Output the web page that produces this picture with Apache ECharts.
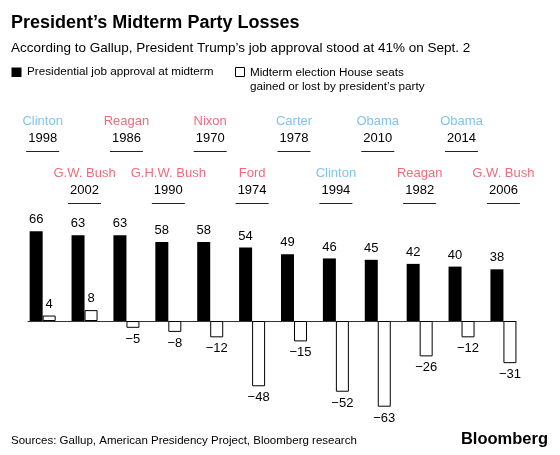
<!DOCTYPE html>
<html>
<head>
<meta charset="utf-8">
<script src="https://cdn.jsdelivr.net/npm/echarts@6/dist/echarts.min.js"></script>
<style>
html,body{margin:0;padding:0;background:#fff;}
#chart{width:560px;height:455px;}
</style>
</head>
<body>
<div id="chart"></div>
<script>
var presidents = ['Clinton','G.W. Bush','Reagan','G.H.W. Bush','Nixon','Ford','Carter','Clinton','Obama','Reagan','Obama','G.W. Bush'];
var years = ['1998','2002','1986','1990','1970','1974','1978','1994','2010','1982','2014','2006'];
var parties = ['D','R','R','R','R','R','D','D','D','R','D','R'];
var approval = [66,63,63,58,58,54,49,46,45,42,40,38];
var seats = [4,8,-5,-8,-12,-48,-15,-52,-63,-26,-12,-31];

var FONT = '"Liberation Sans", Arial, Helvetica, sans-serif';
var partyColor = {D:'#7cc6ec', R:'#ee6c7c'};
function fmt(v){ return v < 0 ? '\u2212' + Math.abs(v) : String(v); }

var chart = echarts.init(document.getElementById('chart'), null, {renderer:'canvas'});

var approvalData = approval.map(function(v,i){ return [i, v]; });
var seatsData = seats.map(function(v,i){
  return {value:[i, v], label:{position: v < 0 ? 'bottom' : 'top'}};
});
var labelData = presidents.map(function(p,i){ return [i, 0]; });

chart.setOption({
  animation:false,
  textStyle:{fontFamily:FONT},
  grid:{left:28, right:44, top:225.8, height:190.4, containLabel:false},
  xAxis:{type:'value', min:-0.35, max:11.3, 
    axisLine:{show:true, onZero:true, lineStyle:{color:'#333', width:1}},
    axisTick:{show:false}, axisLabel:{show:false}, splitLine:{show:false}},
  yAxis:{type:'value', min:-70, max:70, show:false, splitLine:{show:false}},
  graphic:[
    {type:'text', left:11, top:14, style:{text:'President\u2019s Midterm Party Losses', font:'bold 18px '+FONT, fill:'#000'}},
    {type:'text', left:11, top:41.5, style:{text:'According to Gallup, President Trump\u2019s job approval stood at 41% on Sept. 2', font:'13.5px '+FONT, fill:'#000'}},
    {type:'rect', shape:{x:11.5, y:67.5, width:10, height:9.5}, style:{fill:'#000'}},
    {type:'text', left:27, top:66, style:{text:'Presidential job approval at midterm', font:'11.7px '+FONT, fill:'#000'}},
    {type:'rect', shape:{x:235.5, y:67.5, width:9, height:9}, style:{fill:'#fff', stroke:'#000', lineWidth:1}},
    {type:'text', left:250, top:66, style:{text:'Midterm election House seats\ngained or lost by president\u2019s party', font:'11.7px '+FONT, lineHeight:14, fill:'#000'}},
    {type:'text', left:11, top:434.5, style:{text:'Sources: Gallup, American Presidency Project, Bloomberg research', font:'11.5px '+FONT, fill:'#000'}},
    {type:'text', right:12, top:431, style:{text:'Bloomberg', font:'bold 16.5px '+FONT, fill:'#000'}}
  ],
  series:[
    {name:'Presidential job approval at midterm', type:'bar', data:approvalData, barWidth:13, barGap:'0%',
      itemStyle:{color:'#000'},
      label:{show:true, position:'top', distance:5, color:'#000', fontSize:13, fontFamily:FONT, formatter:function(p){return fmt(p.value[1]);}}},
    {name:'Midterm election House seats gained or lost by president\u2019s party', type:'bar', data:seatsData, barWidth:13, barGap:'0%',
      itemStyle:{color:'#fff', borderColor:'#000', borderWidth:1},
      label:{show:true, distance:5, color:'#000', fontSize:13, fontFamily:FONT, formatter:function(p){return fmt(p.value[1]);}}},
    {type:'custom', data:labelData, silent:true, clip:false, z:5,
      renderItem:function(params, api){
        var i = params.dataIndex;
        var x = api.coord([api.value(0), 0])[0];
        var row = i % 2;
        var nameY = row === 0 ? 121.5 : 173;
        var yearY = row === 0 ? 138 : 190.5;
        var lineY = row === 0 ? 151.5 : 203.5;
        return {type:'group', children:[
          {type:'text', style:{text:presidents[i], x:x, y:nameY, align:'center', verticalAlign:'middle', font:'13px '+FONT, fill:partyColor[parties[i]]}},
          {type:'text', style:{text:years[i], x:x, y:yearY, align:'center', verticalAlign:'middle', font:'13px '+FONT, fill:'#000'}},
          {type:'line', shape:{x1:x-16.5, y1:lineY, x2:x+16.5, y2:lineY}, style:{stroke:'#222', lineWidth:1}}
        ]};
      }}
  ]
});
</script>
</body>
</html>
